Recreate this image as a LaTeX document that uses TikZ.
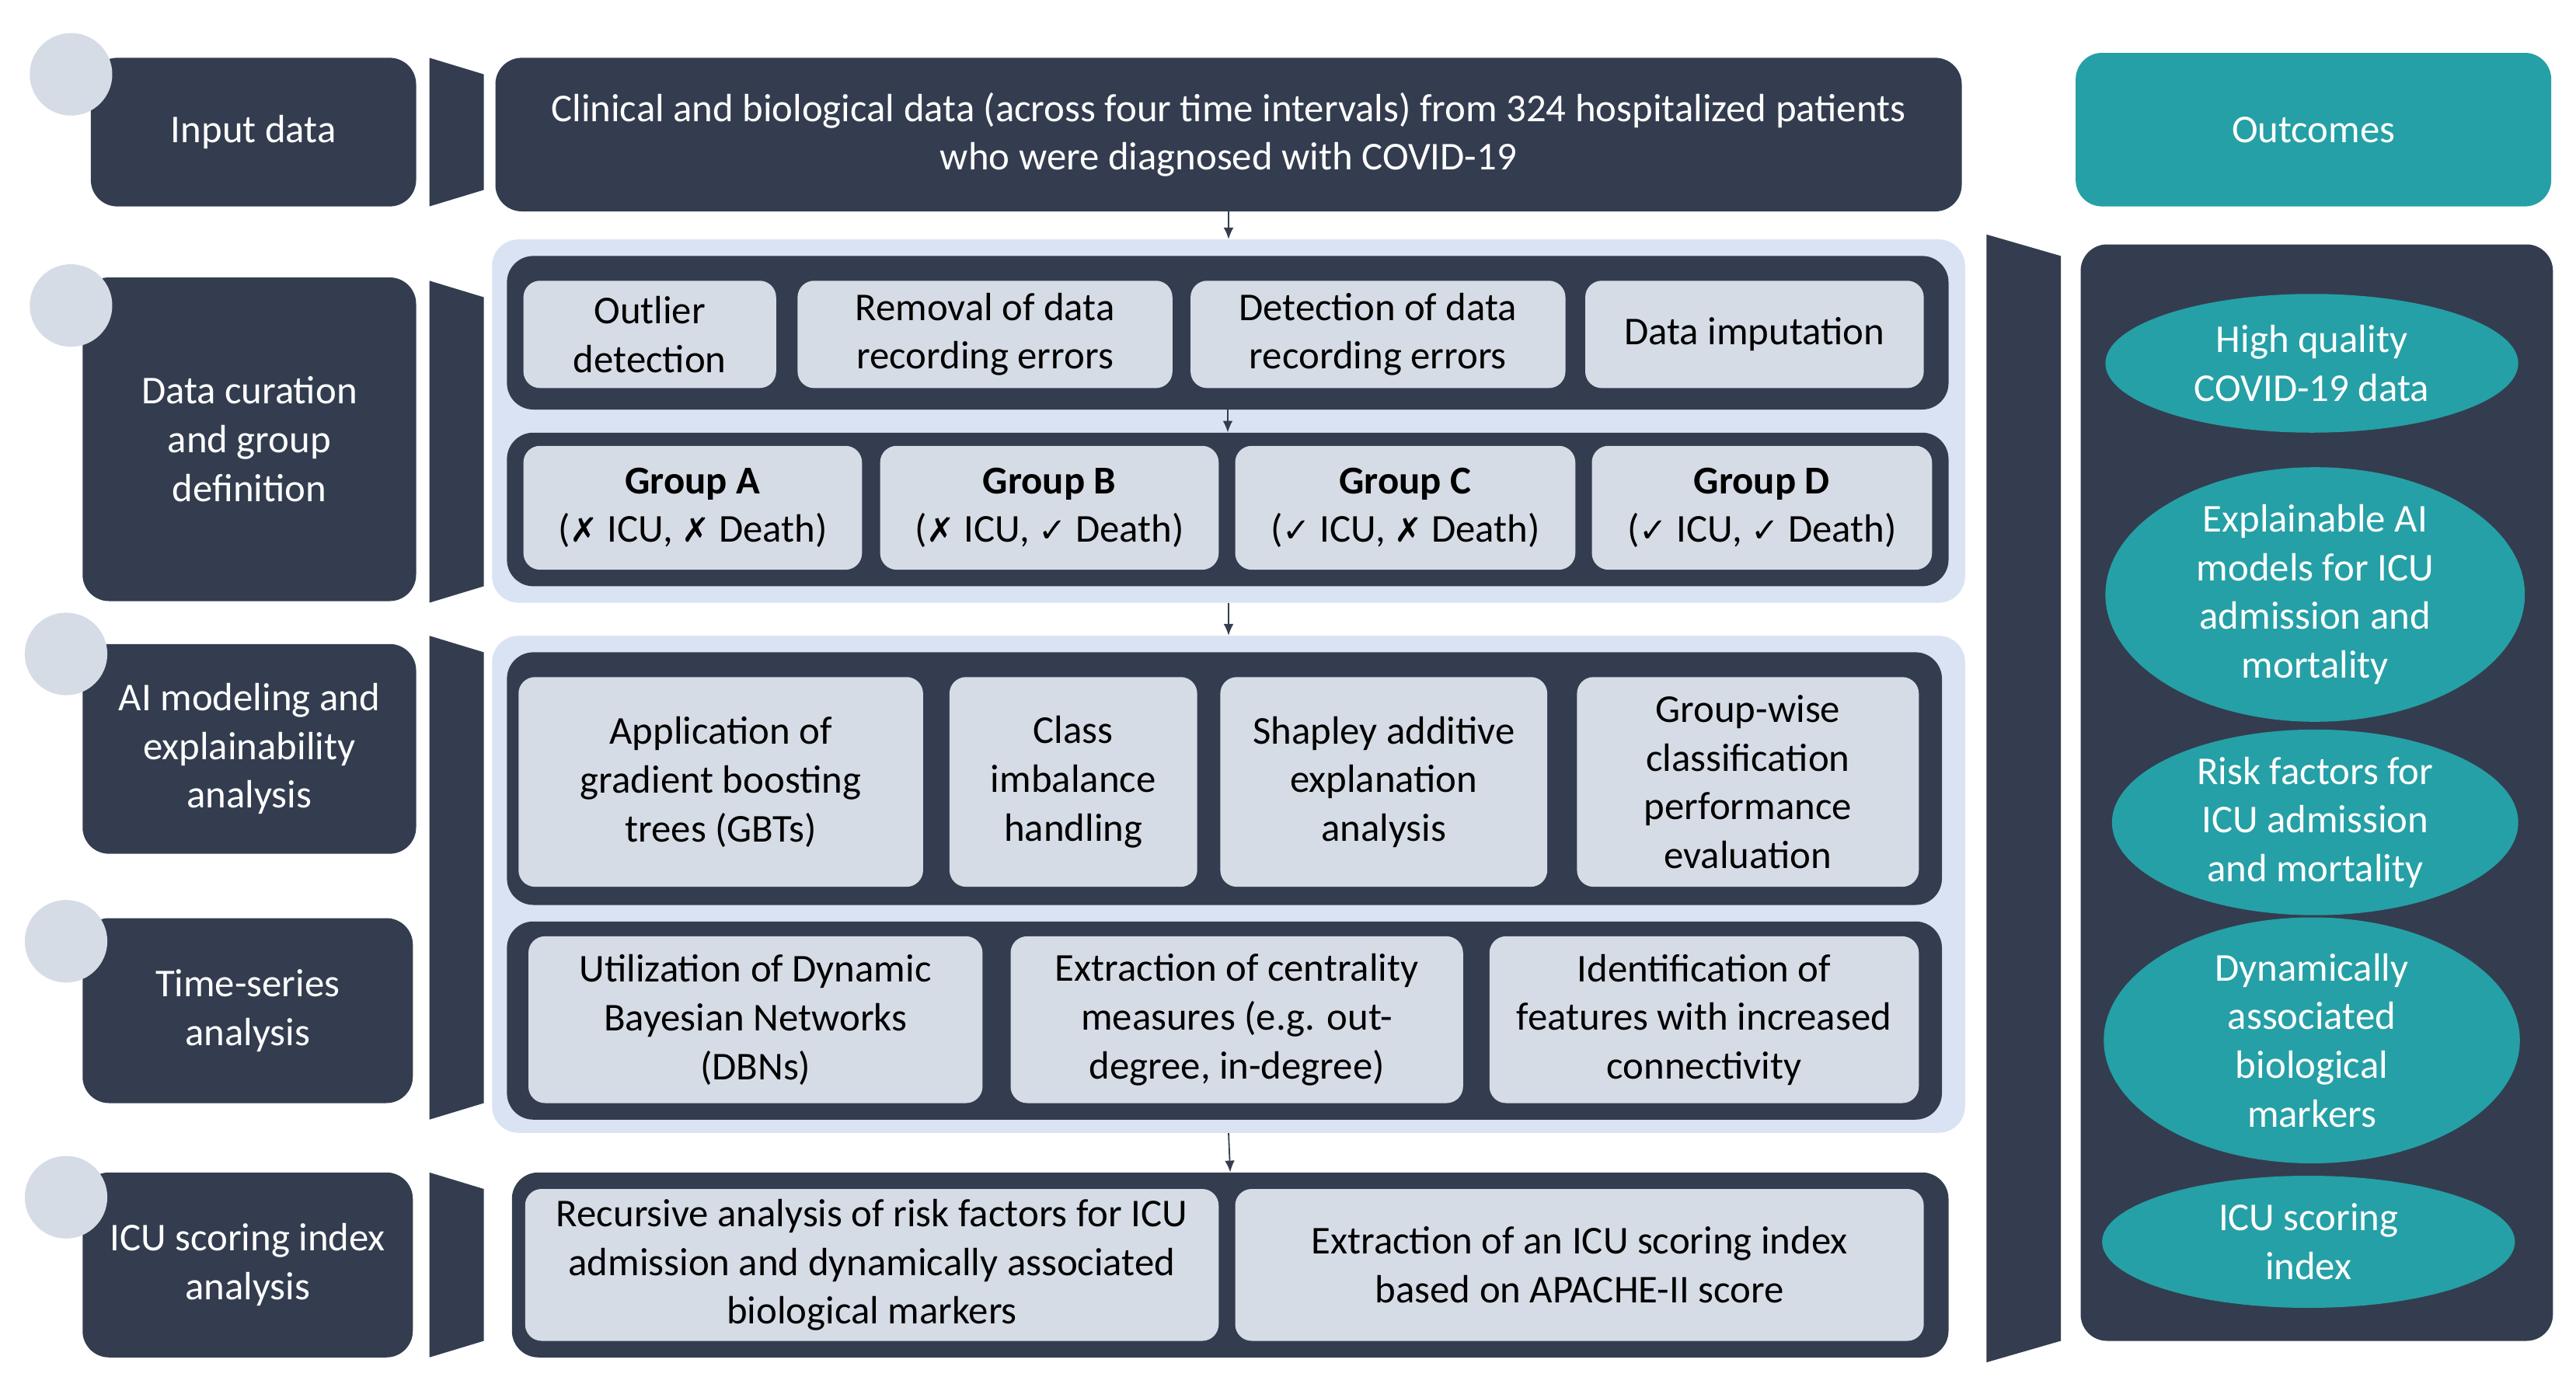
\documentclass[tikz,border=0pt]{standalone}
\usepackage{fontspec}
\setmainfont{Carlito}
\newfontfamily\symf{DejaVu Sans}
\usetikzlibrary{shapes.geometric,arrows.meta}
\definecolor{dk}{HTML}{333D4F}
\definecolor{tl}{HTML}{25A0A6}
\definecolor{lg}{HTML}{D6DCE5}
\definecolor{lb}{HTML}{DAE3F3}
\newcommand\bx[7]{\node[#6, minimum width={(#4-#2)*0.05cm}, minimum height={(#5-#3)*0.05cm}] (#1) at ({(#2+#4)/2},{(#3+#5)/2}) {#7};}
\newcommand\xx{{\symf\bfseries\fontsize{29}{42}\selectfont ✗}}
\newcommand\ck{{\symf\fontsize{29}{42}\selectfont ✓}}
\begin{document}
\begin{tikzpicture}[x=0.05cm,y=-0.05cm,
  font=\fontsize{34}{42}\selectfont,
  base/.style={inner sep=0pt, align=center},
  dkb/.style={base, fill=dk, rounded corners=0.8cm, text=white},
  dkp/.style={base, fill=dk, rounded corners=0.8cm},
  gb/.style={base, fill=lg, rounded corners=0.5cm, text=black},
  lbp/.style={base, fill=lb, rounded corners=0.8cm},
  tb/.style={base, fill=tl, rounded corners=0.8cm, text=white},
  el/.style={ellipse, fill=tl, text=white, inner sep=0pt, align=center},
  circ/.style={circle, fill=lg, minimum size=2.5cm, inner sep=0pt},
  chev/.style={fill=dk},
  arr/.style={-{Latex[length=0.35cm,width=0.3cm]}, line width=1.2pt, draw=dk}]
\useasboundingbox (0,0) rectangle (1560,838);
% left labels
\bx{l1}{55}{35}{252}{125}{dkb}{Input data}
\bx{l2}{50}{168}{252}{364}{dkb}{Data curation\\and group\\definition}
\bx{l3}{50}{390}{252}{517}{dkb}{AI modeling and\\explainability\\analysis}
\bx{l4}{50}{556}{250}{668}{dkb}{Time-series\\analysis}
\bx{l5}{50}{710}{250}{822}{dkb}{ICU scoring index\\analysis}
\node[circ] (c1) at (43,45) {};
\node[circ] (c2) at (43,185) {};
\node[circ] (c3) at (40,396) {};
\node[circ] (c4) at (40,570) {};
\node[circ] (c5) at (40,725) {};
% chevrons
\fill[chev] (260,35) -- (293,45) -- (293,115) -- (260,125) -- cycle;
\fill[chev] (260,170) -- (293,180) -- (293,355) -- (260,365) -- cycle;
\fill[chev] (260,385) -- (293,395) -- (293,668) -- (260,678) -- cycle;
\fill[chev] (260,710) -- (293,720) -- (293,812) -- (260,822) -- cycle;
\fill[chev] (1203,142) -- (1248,155) -- (1248,812) -- (1203,825) -- cycle;
% top
\bx{top}{300}{35}{1188}{128}{dkb}{Clinical and biological data (across four time intervals) from 324 hospitalized patients\\who were diagnosed with COVID-19}
% panel 1
\bx{p1}{298}{145}{1190}{365}{lbp}{}
\bx{r1}{307}{155}{1180}{248}{dkp}{}
\bx{a1}{317}{170}{470}{235}{gb}{Outlier\\detection}
\bx{a2}{483}{170}{710}{235}{gb}{Removal of data\\recording errors}
\bx{a3}{721}{170}{948}{235}{gb}{Detection of data\\recording errors}
\bx{a4}{960}{170}{1165}{235}{gb}{Data imputation}
\bx{r2}{307}{262}{1180}{355}{dkp}{}
\bx{b1}{317}{270}{522}{345}{gb}{\textbf{Group A}\\(\xx\ ICU, \xx\ Death)}
\bx{b2}{533}{270}{738}{345}{gb}{\textbf{Group B}\\(\xx\ ICU, \ck\ Death)}
\bx{b3}{748}{270}{954}{345}{gb}{\textbf{Group C}\\(\ck\ ICU, \xx\ Death)}
\bx{b4}{964}{270}{1170}{345}{gb}{\textbf{Group D}\\(\ck\ ICU, \ck\ Death)}
% panel 2
\bx{p2}{298}{385}{1190}{686}{lbp}{}
\bx{r3}{307}{395}{1176}{548}{dkp}{}
\bx{d1}{314}{410}{559}{537}{gb}{Application of\\gradient boosting\\trees (GBTs)}
\bx{d2}{575}{410}{725}{537}{gb}{Class\\imbalance\\handling}
\bx{d3}{739}{410}{937}{537}{gb}{Shapley additive\\explanation\\analysis}
\bx{d4}{955}{410}{1162}{537}{gb}{Group-wise\\classification\\performance\\evaluation}
\bx{r4}{307}{558}{1176}{678}{dkp}{}
\bx{e1}{320}{567}{595}{668}{gb}{Utilization of Dynamic\\Bayesian Networks\\(DBNs)}
\bx{e2}{612}{567}{886}{668}{gb}{Extraction of centrality\\measures (e.g. out-\\degree, in-degree)}
\bx{e3}{902}{567}{1162}{668}{gb}{Identification of\\features with increased\\connectivity}
% row 5
\bx{r5}{310}{710}{1180}{822}{dkp}{}
\bx{f1}{318}{720}{738}{812}{gb}{Recursive analysis of risk factors for ICU\\admission and dynamically associated\\biological markers}
\bx{f2}{748}{720}{1165}{812}{gb}{Extraction of an ICU scoring index\\based on APACHE-II score}
% arrows
\draw[arr] (top.south) -- (p1.north);
\draw[arr] (r1.south) -- (r2.north);
\draw[arr] (p1.south) -- (p2.north);
\draw[arr] (p2.south) -- (r5.north);
% outcomes
\bx{out}{1257}{32}{1545}{125}{tb}{Outcomes}
\bx{ro}{1260}{148}{1546}{812}{dkp}{}
\node[el, minimum width=250*0.05cm, minimum height=84*0.05cm] (o1) at (1400,220) {High quality\\COVID-19 data};
\node[el, minimum width=254*0.05cm, minimum height=144*0.05cm] (o2) at (1402,360) {Explainable AI\\models for ICU\\admission and\\mortality};
\node[el, minimum width=246*0.05cm, minimum height=104*0.05cm] (o3) at (1402,498) {Risk factors for\\ICU admission\\and mortality};
\node[el, minimum width=252*0.05cm, minimum height=136*0.05cm] (o4) at (1400,630) {Dynamically\\associated\\biological\\markers};
\node[el, minimum width=250*0.05cm, minimum height=80*0.05cm] (o5) at (1398,752) {ICU scoring\\index};
\end{tikzpicture}
\end{document}
